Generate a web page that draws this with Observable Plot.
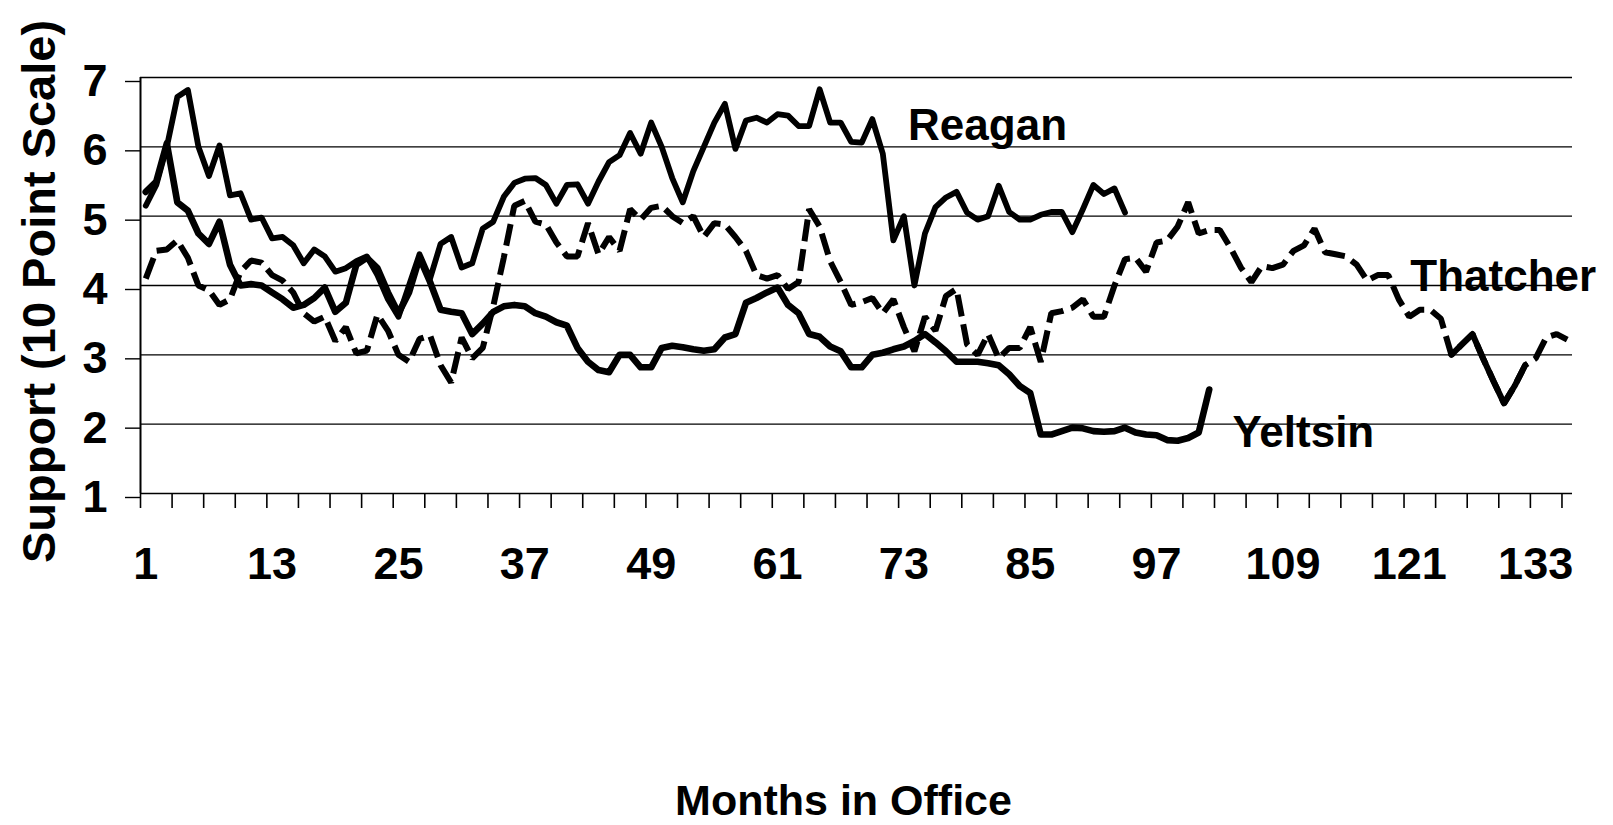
<!DOCTYPE html>
<html>
<head>
<meta charset="utf-8">
<script src="https://cdn.jsdelivr.net/npm/d3@7"></script>
<script src="https://cdn.jsdelivr.net/npm/@observablehq/plot@0.6"></script>
<style>
  html, body { margin: 0; padding: 0; background: #fff; }
  #chart svg { display: block; }
</style>
</head>
<body>
<div id="chart"></div>
<script>
// ---- Data (support on a 10 point scale, by month in office) ----
const reagan = [
  5.15, 5.45, 6.0, 6.72, 6.82, 6.0, 5.58, 6.02, 5.3, 5.33,
  4.95, 4.98, 4.68, 4.7, 4.58, 4.32, 4.52, 4.42, 4.2, 4.25,
  4.35, 4.42, 4.15, 3.8, 3.55, 4.0, 4.45, 4.1, 4.6, 4.7,
  4.26, 4.32, 4.82, 4.92, 5.28, 5.48, 5.54, 5.55, 5.45, 5.18,
  5.45, 5.46, 5.18, 5.5, 5.78, 5.88, 6.2, 5.9, 6.35, 6.0,
  5.55, 5.2, 5.65, 6.0, 6.35, 6.62, 5.97, 6.38, 6.42, 6.35,
  6.47, 6.45, 6.3, 6.3, 6.83, 6.35, 6.35, 6.07, 6.06, 6.4,
  5.9, 4.65, 5.0, 4.0, 4.75, 5.13, 5.27, 5.35, 5.05, 4.95,
  5.0, 5.44, 5.06, 4.95, 4.95, 5.02, 5.06, 5.06, 4.77, 5.1,
  5.45, 5.32, 5.4, 5.05
];
const yeltsin = [
  5.35, 5.5, 6.05, 5.2, 5.08, 4.75, 4.6, 4.92, 4.3, 4.0,
  4.02, 4.0, 3.9, 3.8, 3.68, 3.72, 3.82, 3.97, 3.62, 3.75,
  4.3, 4.4, 4.25, 3.9, 3.6, 3.9, 4.4, 4.05, 3.65, 3.62,
  3.6, 3.3, 3.45, 3.62, 3.7, 3.72, 3.7, 3.6, 3.55, 3.47,
  3.42, 3.1, 2.9, 2.78, 2.75, 3.0, 3.0, 2.82, 2.82, 3.1,
  3.13, 3.11, 3.08, 3.06, 3.08, 3.25, 3.3, 3.75, 3.82, 3.9,
  3.97, 3.72, 3.6, 3.3, 3.26, 3.12, 3.05, 2.82, 2.82, 3.0,
  3.03, 3.08, 3.12, 3.2, 3.3, 3.18, 3.05, 2.9, 2.9, 2.9,
  2.88, 2.85, 2.72, 2.55, 2.45, 1.85, 1.85, 1.9, 1.95, 1.94,
  1.9, 1.89, 1.9, 1.95, 1.88, 1.85, 1.84, 1.77, 1.76, 1.8,
  1.88, 2.5
];
const thatcher = [
  4.1, 4.5, 4.52, 4.65, 4.4, 4.0, 3.93, 3.72, 3.8, 4.2,
  4.36, 4.33, 4.15, 4.07, 3.9, 3.6, 3.48, 3.55, 3.2, 3.4,
  3.02, 3.06, 3.58, 3.35, 3.0, 2.9, 3.23, 3.28, 2.85, 2.6,
  3.25, 2.95, 3.1, 3.7, 4.4, 5.15, 5.22, 4.92, 4.88, 4.62,
  4.42, 4.42, 4.9, 4.45, 4.7, 4.5, 5.1, 4.95, 5.12, 5.15,
  5.0, 4.9, 5.0, 4.7, 4.9, 4.88, 4.7, 4.5, 4.15, 4.1,
  4.15, 3.95, 4.05, 5.1, 4.85, 4.35, 4.05, 3.72, 3.76, 3.82,
  3.6, 3.8, 3.4, 3.05, 3.55, 3.35, 3.85, 3.95, 3.15, 3.0,
  3.3, 2.95, 3.1, 3.1, 3.4, 2.9, 3.6, 3.63, 3.68, 3.8,
  3.55, 3.55, 4.0, 4.38, 4.4, 4.2, 4.62, 4.65, 4.85, 5.2,
  4.75, 4.8, 4.8, 4.55, 4.26, 4.05, 4.28, 4.25, 4.3, 4.5,
  4.58, 4.82, 4.48, 4.45, 4.42, 4.3, 4.07, 4.15, 4.15, 3.8,
  3.55, 3.65, 3.65, 3.52, 3.0, 3.15, 3.3, 2.95, 2.62, 2.3,
  2.55, 2.85, 2.95, 3.25, 3.3, 3.22
];
const xTickLabels = [1, 13, 25, 37, 49, 61, 73, 85, 97, 109, 121, 133];
const yTicks = [1, 2, 3, 4, 5, 6, 7];
const seriesNames = ["Reagan", "Thatcher", "Yeltsin"];
const labelMonths = [73.4, 121.1, 104.2];
const labelValues = [6.1, 3.92, 1.67];
const thatcherSolidMonths = [125, 132];

// ---- Tables built from the arrays ----
const toRows = (name, values) => values.map((value, i) => ({name, month: i + 1, value}));
const rowsReagan = toRows("Reagan", reagan);
const rowsYeltsin = toRows("Yeltsin", yeltsin);
const rowsThatcher = toRows("Thatcher", thatcher);
const rowsThatcherSolid = rowsThatcher.filter(d => d.month >= thatcherSolidMonths[0] && d.month <= thatcherSolidMonths[1]);
const labels = seriesNames.map((name, i) => ({name, month: labelMonths[i], value: labelValues[i]}));
const nMonths = thatcher.length;
const boundaryTicks = d3.range(0.5, nMonths, 3);

const font = "'Liberation Sans', Arial, Helvetica, sans-serif";

const chart = Plot.plot({
  width: 1613,
  height: 825,
  marginTop: 77,
  marginRight: 41,
  marginBottom: 332,
  marginLeft: 140,
  style: {fontFamily: font, color: "#000", background: "#fff"},
  x: {type: "linear", domain: [0.5, nMonths + 0.5], axis: null},
  y: {type: "linear", domain: [1, 7], axis: null},
  marks: [
    Plot.gridY(yTicks, {stroke: "#000", strokeOpacity: 1, strokeWidth: 1.4}),
    Plot.axisY(yTicks, {anchor: "left", tickSize: 15, tickPadding: 18, strokeWidth: 1.4, fontSize: 45, fontWeight: "bold", dy: 4, label: null, tickFormat: d => String(d)}),
    Plot.ruleX([0.5], {stroke: "#000", strokeWidth: 2}),
    Plot.axisX(boundaryTicks, {anchor: "bottom", tickSize: 15, strokeWidth: 1.6, tickFormat: () => "", label: null}),
    Plot.axisX(xTickLabels, {anchor: "bottom", tickSize: 0, tickPadding: 54, fontSize: 45, fontWeight: "bold", label: null, tickFormat: d => String(d)}),
    Plot.line(rowsThatcher, {x: "month", y: "value", stroke: "#000", strokeWidth: 6, strokeDasharray: "22,8", strokeLinecap: "butt", strokeLinejoin: "miter"}),
    Plot.line(rowsThatcherSolid, {x: "month", y: "value", stroke: "#000", strokeWidth: 6}),
    Plot.line(rowsReagan, {x: "month", y: "value", stroke: "#000", strokeWidth: 5.8}),
    Plot.line(rowsYeltsin, {x: "month", y: "value", stroke: "#000", strokeWidth: 6.6}),
    Plot.text(labels, {x: "month", y: "value", text: "name", textAnchor: "start", lineAnchor: "bottom", fontSize: 44, fontWeight: "bold", fill: "#000"}),
    Plot.text(["Months in Office"], {frameAnchor: "bottom", dx: -13, dy: 321, lineAnchor: "bottom", fontSize: 43, fontWeight: "bold", fill: "#000"}),
    Plot.text(["Support (10 Point Scale)"], {frameAnchor: "left", dx: -86, dy: 6, rotate: -90, textAnchor: "middle", lineAnchor: "bottom", fontSize: 47, fontWeight: "bold", fill: "#000"})
  ]
});

document.getElementById("chart").appendChild(chart);
</script>
</body>
</html>
